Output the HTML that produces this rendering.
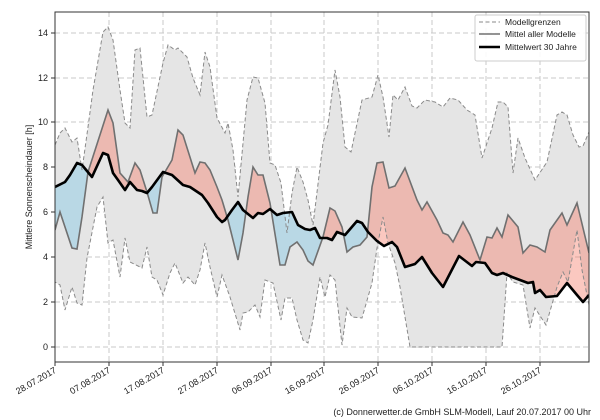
<!DOCTYPE html>
<html><head><meta charset="utf-8"><style>
html,body{margin:0;padding:0;background:#fff;}
svg{display:block;font-family:"Liberation Sans","DejaVu Sans",sans-serif;}
</style></head><body>
<svg width="600" height="420" viewBox="0 0 600 420" xmlns="http://www.w3.org/2000/svg">
<defs>
<clipPath id="plot"><rect x="55" y="12" width="534" height="350"/></clipPath>
<clipPath id="above"><path d="M55,187 L65,182 L70,175 L77,163 L82,165 L92,177 L103,153 L108,155 L113,173 L118,180 L125,190 L130,182 L137,190 L142,191 L147,193 L152,187 L163,172 L172,175 L183,185 L190,187 L202,195 L208,203 L217,217 L222,222 L225,220 L232,210 L238,202 L243,210 L253,218 L258,213 L263,214 L270,209 L277,215 L283,213 L292,212 L298,225 L305,229 L310,230 L315,228 L320,238 L327,238 L332,240 L337,232 L345,235 L357,221 L362,223 L368,232 L377,241 L384,246 L392,242 L397,247 L405,267 L415,264 L422,257 L432,273 L443,287 L459,256 L472,266 L476,262 L485,263 L492,273 L497,275 L503,273 L512,277 L520,280 L528,283 L533,282 L535,293 L540,290 L546,297 L557,296 L567,283 L577,295 L583,302 L589,295 L589,0 L55,0 Z"/></clipPath>
<clipPath id="below"><path d="M55,187 L65,182 L70,175 L77,163 L82,165 L92,177 L103,153 L108,155 L113,173 L118,180 L125,190 L130,182 L137,190 L142,191 L147,193 L152,187 L163,172 L172,175 L183,185 L190,187 L202,195 L208,203 L217,217 L222,222 L225,220 L232,210 L238,202 L243,210 L253,218 L258,213 L263,214 L270,209 L277,215 L283,213 L292,212 L298,225 L305,229 L310,230 L315,228 L320,238 L327,238 L332,240 L337,232 L345,235 L357,221 L362,223 L368,232 L377,241 L384,246 L392,242 L397,247 L405,267 L415,264 L422,257 L432,273 L443,287 L459,256 L472,266 L476,262 L485,263 L492,273 L497,275 L503,273 L512,277 L520,280 L528,283 L533,282 L535,293 L540,290 L546,297 L557,296 L567,283 L577,295 L583,302 L589,295 L589,420 L55,420 Z"/></clipPath>
</defs>
<!-- grid -->
<g stroke="#c8c8c8" stroke-width="1" stroke-dasharray="5,3">
<line x1="55" x2="589" y1="347" y2="347"/><line x1="55" x2="589" y1="302" y2="302"/><line x1="55" x2="589" y1="257" y2="257"/><line x1="55" x2="589" y1="212" y2="212"/><line x1="55" x2="589" y1="167" y2="167"/><line x1="55" x2="589" y1="122" y2="122"/><line x1="55" x2="589" y1="78" y2="78"/><line x1="55" x2="589" y1="33" y2="33"/>
<line y1="12" y2="362" x1="109" x2="109"/><line y1="12" y2="362" x1="163" x2="163"/><line y1="12" y2="362" x1="217" x2="217"/><line y1="12" y2="362" x1="271" x2="271"/><line y1="12" y2="362" x1="324" x2="324"/><line y1="12" y2="362" x1="378" x2="378"/><line y1="12" y2="362" x1="432" x2="432"/><line y1="12" y2="362" x1="486" x2="486"/><line y1="12" y2="362" x1="540" x2="540"/>
</g>
<g clip-path="url(#plot)">
<!-- band -->
<path fill="#e5e5e5" d="M55,145 L60,133 L65,128 L72,142 L77,138 L82,170 L88,127 L93,90 L103,32 L108,27 L113,40 L120,90 L125,123 L130,128 L135,50 L140,48 L147,117 L152,115 L163,63 L168,45 L175,50 L178,48 L187,57 L193,78 L200,95 L205,52 L210,67 L217,118 L225,133 L228,123 L233,150 L238,197 L247,100 L253,77 L258,78 L265,103 L270,163 L275,165 L281,183 L287,233 L292,193 L297,167 L303,182 L308,200 L313,225 L323,143 L328,125 L335,70 L340,97 L345,147 L351,152 L362,100 L372,97 L378,75 L383,97 L389,137 L393,95 L398,100 L405,87 L412,106 L417,108 L425,100 L435,102 L443,107 L450,98 L458,100 L467,110 L475,115 L482,158 L492,128 L498,102 L503,102 L508,107 L513,173 L518,138 L525,158 L535,180 L547,162 L557,115 L562,112 L567,115 L573,135 L579,147 L583,146 L589,132 L589,305 L582,270 L577,230 L568,282 L563,272 L557,287 L546,325 L535,308 L530,328 L523,285 L513,282 L507,273 L502,347 L410,347 L400,287 L395,263 L388,243 L383,217 L377,248 L372,283 L362,318 L352,317 L347,308 L342,345 L335,280 L330,275 L325,297 L320,277 L313,320 L308,343 L303,340 L297,320 L292,298 L285,298 L281,320 L273,283 L265,280 L260,317 L255,305 L248,312 L243,313 L240,330 L230,297 L222,275 L217,297 L210,267 L205,243 L200,270 L195,285 L188,277 L183,283 L175,263 L170,273 L163,295 L157,280 L152,277 L147,247 L142,268 L130,262 L125,238 L120,277 L113,240 L108,243 L103,197 L97,207 L87,258 L82,305 L77,303 L72,287 L65,310 L60,285 L55,282 Z"/>
<!-- fills -->
<g id="fills">
<path clip-path="url(#above)" fill="rgba(245,125,105,0.42)" d="M55,230 L60,212 L72,248 L77,249 L82,217 L88,172 L108,110 L113,123 L120,173 L128,182 L135,163 L140,170 L147,192 L153,213 L157,213 L162,177 L172,160 L178,130 L183,135 L195,173 L200,162 L205,163 L210,170 L217,187 L222,200 L228,220 L238,260 L243,233 L248,197 L253,167 L258,175 L263,175 L270,203 L280,265 L285,265 L290,247 L297,242 L303,250 L308,261 L313,265 L323,237 L330,208 L335,211 L342,227 L347,252 L353,247 L360,245 L367,237 L372,187 L377,163 L383,162 L389,188 L395,186 L405,168 L417,200 L422,210 L427,202 L437,220 L443,233 L448,235 L453,242 L463,222 L470,235 L480,260 L487,237 L492,238 L497,228 L502,237 L508,215 L518,227 L523,253 L530,245 L537,247 L545,252 L550,230 L562,213 L567,225 L577,203 L589,253 L589,295 L583,302 L577,295 L567,283 L557,296 L546,297 L540,290 L535,293 L533,282 L528,283 L520,280 L512,277 L503,273 L497,275 L492,273 L485,263 L476,262 L472,266 L459,256 L443,287 L432,273 L422,257 L415,264 L405,267 L397,247 L392,242 L384,246 L377,241 L368,232 L362,223 L357,221 L345,235 L337,232 L332,240 L327,238 L320,238 L315,228 L310,230 L305,229 L298,225 L292,212 L283,213 L277,215 L270,209 L263,214 L258,213 L253,218 L243,210 L238,202 L232,210 L225,220 L222,222 L217,217 L208,203 L202,195 L190,187 L183,185 L172,175 L163,172 L152,187 L147,193 L142,191 L137,190 L130,182 L125,190 L118,180 L113,173 L108,155 L103,153 L92,177 L82,165 L77,163 L70,175 L65,182 L55,187 Z"/>
<path clip-path="url(#below)" fill="rgba(150,205,230,0.55)" d="M55,230 L60,212 L72,248 L77,249 L82,217 L88,172 L108,110 L113,123 L120,173 L128,182 L135,163 L140,170 L147,192 L153,213 L157,213 L162,177 L172,160 L178,130 L183,135 L195,173 L200,162 L205,163 L210,170 L217,187 L222,200 L228,220 L238,260 L243,233 L248,197 L253,167 L258,175 L263,175 L270,203 L280,265 L285,265 L290,247 L297,242 L303,250 L308,261 L313,265 L323,237 L330,208 L335,211 L342,227 L347,252 L353,247 L360,245 L367,237 L372,187 L377,163 L383,162 L389,188 L395,186 L405,168 L417,200 L422,210 L427,202 L437,220 L443,233 L448,235 L453,242 L463,222 L470,235 L480,260 L487,237 L492,238 L497,228 L502,237 L508,215 L518,227 L523,253 L530,245 L537,247 L545,252 L550,230 L562,213 L567,225 L577,203 L589,253 L589,295 L583,302 L577,295 L567,283 L557,296 L546,297 L540,290 L535,293 L533,282 L528,283 L520,280 L512,277 L503,273 L497,275 L492,273 L485,263 L476,262 L472,266 L459,256 L443,287 L432,273 L422,257 L415,264 L405,267 L397,247 L392,242 L384,246 L377,241 L368,232 L362,223 L357,221 L345,235 L337,232 L332,240 L327,238 L320,238 L315,228 L310,230 L305,229 L298,225 L292,212 L283,213 L277,215 L270,209 L263,214 L258,213 L253,218 L243,210 L238,202 L232,210 L225,220 L222,222 L217,217 L208,203 L202,195 L190,187 L183,185 L172,175 L163,172 L152,187 L147,193 L142,191 L137,190 L130,182 L125,190 L118,180 L113,173 L108,155 L103,153 L92,177 L82,165 L77,163 L70,175 L65,182 L55,187 Z"/>
</g>
<!-- bounds -->
<g fill="none" stroke="#8a8a8a" stroke-width="1" stroke-dasharray="4,2.5">
<path d="M55,145 L60,133 L65,128 L72,142 L77,138 L82,170 L88,127 L93,90 L103,32 L108,27 L113,40 L120,90 L125,123 L130,128 L135,50 L140,48 L147,117 L152,115 L163,63 L168,45 L175,50 L178,48 L187,57 L193,78 L200,95 L205,52 L210,67 L217,118 L225,133 L228,123 L233,150 L238,197 L247,100 L253,77 L258,78 L265,103 L270,163 L275,165 L281,183 L287,233 L292,193 L297,167 L303,182 L308,200 L313,225 L323,143 L328,125 L335,70 L340,97 L345,147 L351,152 L362,100 L372,97 L378,75 L383,97 L389,137 L393,95 L398,100 L405,87 L412,106 L417,108 L425,100 L435,102 L443,107 L450,98 L458,100 L467,110 L475,115 L482,158 L492,128 L498,102 L503,102 L508,107 L513,173 L518,138 L525,158 L535,180 L547,162 L557,115 L562,112 L567,115 L573,135 L579,147 L583,146 L589,132"/>
<path d="M589,305 L582,270 L577,230 L568,282 L563,272 L557,287 L546,325 L535,308 L530,328 L523,285 L513,282 L507,273 L502,347 L410,347 L400,287 L395,263 L388,243 L383,217 L377,248 L372,283 L362,318 L352,317 L347,308 L342,345 L335,280 L330,275 L325,297 L320,277 L313,320 L308,343 L303,340 L297,320 L292,298 L285,298 L281,320 L273,283 L265,280 L260,317 L255,305 L248,312 L243,313 L240,330 L230,297 L222,275 L217,297 L210,267 L205,243 L200,270 L195,285 L188,277 L183,283 L175,263 L170,273 L163,295 L157,280 L152,277 L147,247 L142,268 L130,262 L125,238 L120,277 L113,240 L108,243 L103,197 L97,207 L87,258 L82,305 L77,303 L72,287 L65,310 L60,285 L55,282"/>
</g>
<path fill="none" stroke="#707070" stroke-width="1.6" d="M55,230 L60,212 L72,248 L77,249 L82,217 L88,172 L108,110 L113,123 L120,173 L128,182 L135,163 L140,170 L147,192 L153,213 L157,213 L162,177 L172,160 L178,130 L183,135 L195,173 L200,162 L205,163 L210,170 L217,187 L222,200 L228,220 L238,260 L243,233 L248,197 L253,167 L258,175 L263,175 L270,203 L280,265 L285,265 L290,247 L297,242 L303,250 L308,261 L313,265 L323,237 L330,208 L335,211 L342,227 L347,252 L353,247 L360,245 L367,237 L372,187 L377,163 L383,162 L389,188 L395,186 L405,168 L417,200 L422,210 L427,202 L437,220 L443,233 L448,235 L453,242 L463,222 L470,235 L480,260 L487,237 L492,238 L497,228 L502,237 L508,215 L518,227 L523,253 L530,245 L537,247 L545,252 L550,230 L562,213 L567,225 L577,203 L589,253"/>
<path fill="none" stroke="#000" stroke-width="2.6" stroke-linejoin="round" d="M55,187 L65,182 L70,175 L77,163 L82,165 L92,177 L103,153 L108,155 L113,173 L118,180 L125,190 L130,182 L137,190 L142,191 L147,193 L152,187 L163,172 L172,175 L183,185 L190,187 L202,195 L208,203 L217,217 L222,222 L225,220 L232,210 L238,202 L243,210 L253,218 L258,213 L263,214 L270,209 L277,215 L283,213 L292,212 L298,225 L305,229 L310,230 L315,228 L320,238 L327,238 L332,240 L337,232 L345,235 L357,221 L362,223 L368,232 L377,241 L384,246 L392,242 L397,247 L405,267 L415,264 L422,257 L432,273 L443,287 L459,256 L472,266 L476,262 L485,263 L492,273 L497,275 L503,273 L512,277 L520,280 L528,283 L533,282 L535,293 L540,290 L546,297 L557,296 L567,283 L577,295 L583,302 L589,295"/>
</g>
<!-- axes frame -->
<rect x="55" y="12" width="534" height="350" fill="none" stroke="#333" stroke-width="1"/>
<g stroke="#333"><line x1="51" x2="55" y1="347" y2="347"/><line x1="51" x2="55" y1="302" y2="302"/><line x1="51" x2="55" y1="257" y2="257"/><line x1="51" x2="55" y1="212" y2="212"/><line x1="51" x2="55" y1="167" y2="167"/><line x1="51" x2="55" y1="122" y2="122"/><line x1="51" x2="55" y1="78" y2="78"/><line x1="51" x2="55" y1="33" y2="33"/>
<line y1="362" y2="366" x1="55" x2="55"/><line y1="362" y2="366" x1="109" x2="109"/><line y1="362" y2="366" x1="163" x2="163"/><line y1="362" y2="366" x1="217" x2="217"/><line y1="362" y2="366" x1="271" x2="271"/><line y1="362" y2="366" x1="324" x2="324"/><line y1="362" y2="366" x1="378" x2="378"/><line y1="362" y2="366" x1="432" x2="432"/><line y1="362" y2="366" x1="486" x2="486"/><line y1="362" y2="366" x1="540" x2="540"/></g>
<g font-size="9" fill="#222" text-anchor="end">
<text x="48" y="350">0</text><text x="48" y="305">2</text><text x="48" y="260">4</text><text x="48" y="215">6</text><text x="48" y="170">8</text><text x="48" y="125">10</text><text x="48" y="81">12</text><text x="48" y="36">14</text>
</g>
<text transform="translate(32,187) rotate(-90)" font-size="9" text-anchor="middle" fill="#222">Mittlere Sonnenscheindauer [h]</text>
<g font-size="9" fill="#222" text-anchor="end">
<text transform="translate(57,372) rotate(-30)">28.07.2017</text>
<text transform="translate(111,372) rotate(-30)">07.08.2017</text>
<text transform="translate(165,372) rotate(-30)">17.08.2017</text>
<text transform="translate(219,372) rotate(-30)">27.08.2017</text>
<text transform="translate(273,372) rotate(-30)">06.09.2017</text>
<text transform="translate(326,372) rotate(-30)">16.09.2017</text>
<text transform="translate(380,372) rotate(-30)">26.09.2017</text>
<text transform="translate(434,372) rotate(-30)">06.10.2017</text>
<text transform="translate(488,372) rotate(-30)">16.10.2017</text>
<text transform="translate(542,372) rotate(-30)">26.10.2017</text>
</g>
<!-- legend -->
<rect x="475" y="15" width="111" height="46" fill="#fff" fill-opacity="0.9" stroke="#ccc" rx="2"/>
<line x1="479" x2="500" y1="22" y2="22" stroke="#8a8a8a" stroke-dasharray="4,2.5"/>
<line x1="479" x2="500" y1="34" y2="34" stroke="#707070" stroke-width="1.6"/>
<line x1="479" x2="500" y1="47" y2="47" stroke="#000" stroke-width="2.6"/>
<g font-size="8.5" fill="#222"><text x="505" y="25">Modellgrenzen</text><text x="505" y="37">Mittel aller Modelle</text><text x="505" y="50">Mittelwert 30 Jahre</text></g>
<text x="591" y="415" font-size="9" fill="#222" text-anchor="end">(c) Donnerwetter.de GmbH SLM-Modell, Lauf 20.07.2017 00 Uhr</text>
</svg>
</body></html>
